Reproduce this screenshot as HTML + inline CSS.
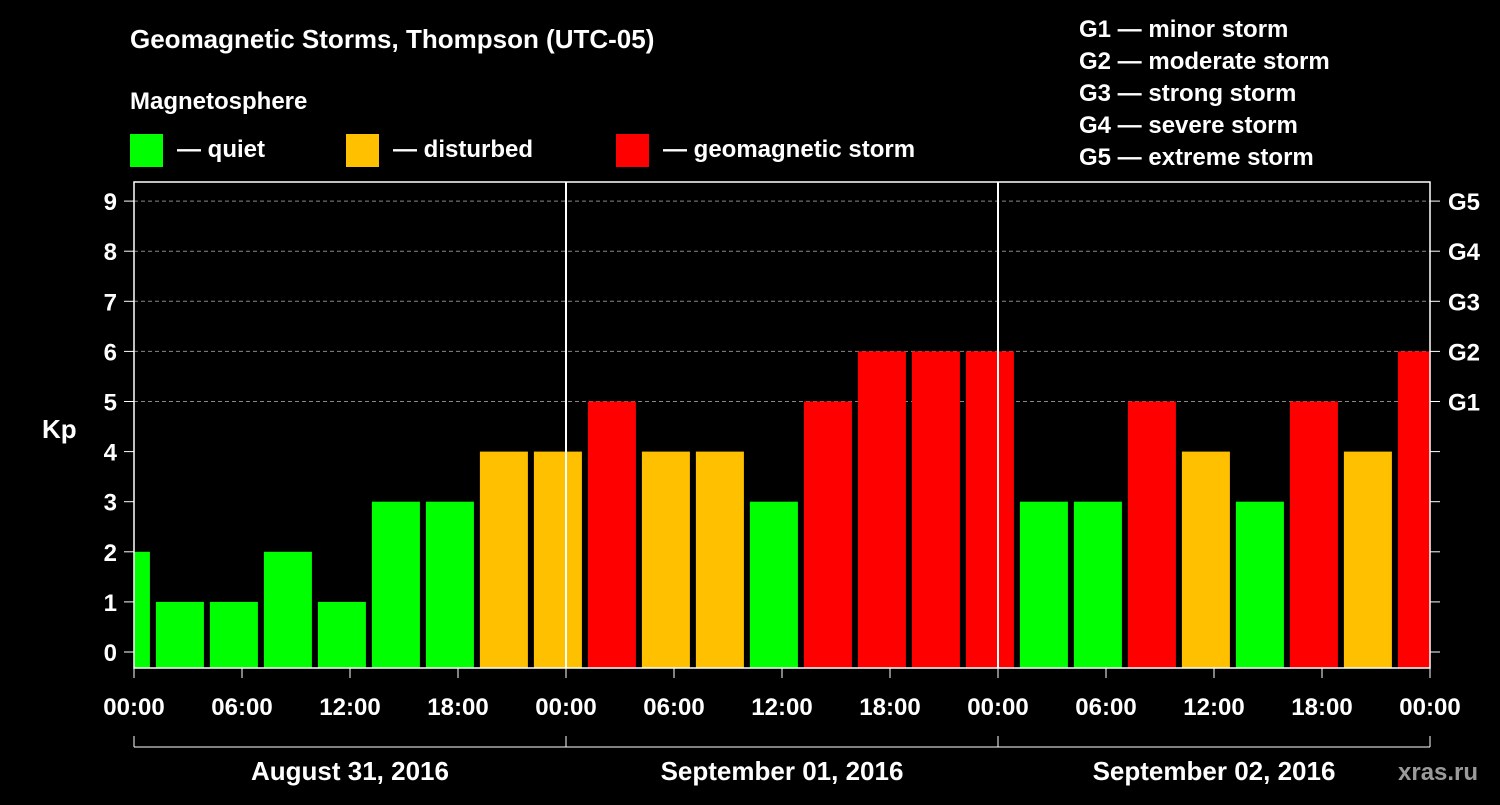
<!DOCTYPE html>
<html><head><meta charset="utf-8"><style>
body{margin:0;background:#000;width:1500px;height:800px;overflow:hidden}
svg text{font-family:"Liberation Sans",sans-serif;font-weight:bold;fill:#fff}
</style></head><body>
<svg id="c" width="1500" height="800" xmlns="http://www.w3.org/2000/svg">
<text x="130" y="48" font-size="26">Geomagnetic Storms, Thompson (UTC-05)</text>
<text x="130" y="109" font-size="24">Magnetosphere</text>
<rect x="130" y="134" width="33" height="33" fill="#00ff00"/>
<text x="177" y="157" font-size="24">— quiet</text>
<rect x="346" y="134" width="33" height="33" fill="#ffc000"/>
<text x="393" y="157" font-size="24">— disturbed</text>
<rect x="616" y="134" width="33" height="33" fill="#ff0000"/>
<text x="663" y="157" font-size="24">— geomagnetic storm</text>
<g font-size="24">
<text x="1079" y="37">G1 — minor storm</text>
<text x="1079" y="69">G2 — moderate storm</text>
<text x="1079" y="101">G3 — strong storm</text>
<text x="1079" y="133">G4 — severe storm</text>
<text x="1079" y="165">G5 — extreme storm</text>
</g>
<text x="42" y="438" font-size="26">Kp</text>
<text x="1398" y="780" font-size="24" fill="#888" style="fill:#9a9a9a">xras.ru</text>
<g id="plot"></g>
</svg>
<script>
const kpValues=[2,1,1,2,1,3,3,4,4,5,4,4,3,5,6,6,6,3,3,5,4,3,5,4,6];
const yTicks=[0,1,2,3,4,5,6,7,8,9];
const gLabels=["G1","G2","G3","G4","G5"];
const xTickLabels=["00:00","06:00","12:00","18:00","00:00","06:00","12:00","18:00","00:00","06:00","12:00","18:00","00:00"];
const dayLabels=["August 31, 2016","September 01, 2016","September 02, 2016"];
const L=134,R=1430,T=182,B=668;
const x=h=>L+(R-L)*h/72;
const y=v=>652-v*50.1;
const g=document.getElementById('plot');
const NS="http://www.w3.org/2000/svg";
function mk(t,a,p){const e=document.createElementNS(NS,t);for(const k in a)e.setAttribute(k,a[k]);(p||g).appendChild(e);return e;}
const clip=mk('clipPath',{id:'cp'});mk('rect',{x:L,y:T,width:R-L,height:B-T},clip);
yTicks.forEach(v=>{if(v>=5){const l=mk('line',{x1:L,x2:R,y1:y(v),y2:y(v),stroke:'#888','stroke-dasharray':'4,3','stroke-width':1});

}
const t=mk('text',{x:117,y:y(v)+9,'font-size':24,'text-anchor':'end'});t.textContent=v;


mk('line',{x1:124,x2:L,y1:y(v),y2:y(v),stroke:'#fff'});mk('line',{x1:R,x2:R+10,y1:y(v),y2:y(v),stroke:'#fff'});});
gLabels.forEach((s,i)=>{const t=mk('text',{x:1448,y:y(5+i)+9,'font-size':24});t.textContent=s;

});
const bg=mk('g',{'clip-path':'url(#cp)'});
kpValues.forEach((v,k)=>{const c=x(3*k-0.45);const col=v>=5?'#ff0000':v>=4?'#ffc000':'#00ff00';
const r=mk('rect',{x:c-24,y:y(v),width:48,height:B-y(v),fill:col},bg);

});
[24,48].forEach(h=>mk('line',{x1:x(h),x2:x(h),y1:T,y2:B,stroke:'#fff','stroke-width':2}));
mk('rect',{x:L,y:T,width:R-L,height:B-T,fill:'none',stroke:'#fff','stroke-width':1.5});
xTickLabels.forEach((s,i)=>{const xx=x(i*6);mk('line',{x1:xx,x2:xx,y1:B,y2:B+10,stroke:'#fff'});
const t=mk('text',{x:xx,y:715,'font-size':24,'text-anchor':'middle'});t.textContent=s;

});
mk('line',{x1:L,x2:R,y1:747,y2:747,stroke:'#fff'});
[0,24,48,72].forEach(h=>mk('line',{x1:x(h),x2:x(h),y1:736,y2:747,stroke:'#fff'}));
dayLabels.forEach((s,i)=>{const t=mk('text',{x:x(i*24+12),y:780,'font-size':26,'text-anchor':'middle'});t.textContent=s;

});
</script>
</body></html>
